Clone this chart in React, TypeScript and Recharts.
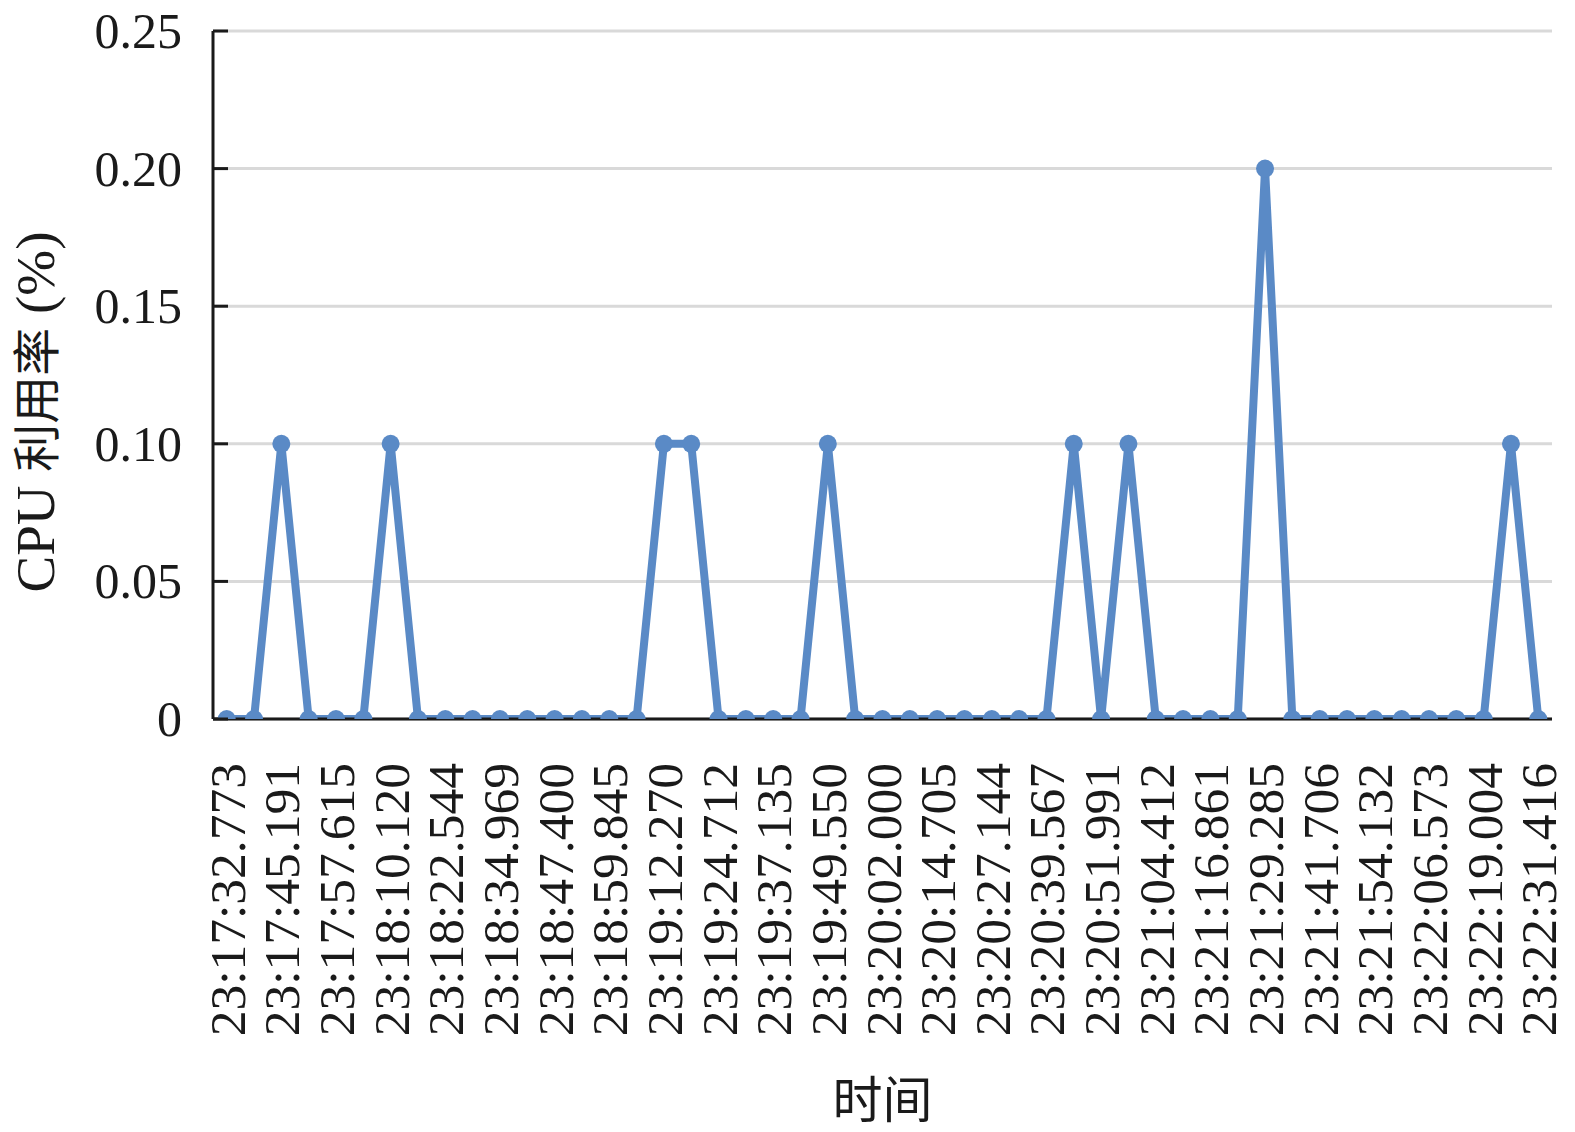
import React from 'react';
import { LineChart, Line, XAxis, YAxis, CartesianGrid, Label } from 'recharts';

const times = [
  '23:17:32.773', '23:17:38.982', '23:17:45.191', '23:17:51.403', '23:17:57.615',
  '23:18:03.868', '23:18:10.120', '23:18:16.332', '23:18:22.544', '23:18:28.757',
  '23:18:34.969', '23:18:41.185', '23:18:47.400', '23:18:53.622', '23:18:59.845',
  '23:19:06.058', '23:19:12.270', '23:19:18.491', '23:19:24.712', '23:19:30.924',
  '23:19:37.135', '23:19:43.343', '23:19:49.550', '23:19:55.775', '23:20:02.000',
  '23:20:08.353', '23:20:14.705', '23:20:20.925', '23:20:27.144', '23:20:33.356',
  '23:20:39.567', '23:20:45.779', '23:20:51.991', '23:20:58.202', '23:21:04.412',
  '23:21:10.637', '23:21:16.861', '23:21:23.073', '23:21:29.285', '23:21:35.496',
  '23:21:41.706', '23:21:47.919', '23:21:54.132', '23:22:00.353', '23:22:06.573',
  '23:22:12.789', '23:22:19.004', '23:22:25.210', '23:22:31.416',
];

const cpu = [
  0, 0, 0.1, 0, 0, 0, 0.1, 0, 0, 0,
  0, 0, 0, 0, 0, 0, 0.1, 0.1, 0, 0,
  0, 0, 0.1, 0, 0, 0, 0, 0, 0, 0,
  0, 0.1, 0, 0.1, 0, 0, 0, 0, 0.2, 0,
  0, 0, 0, 0, 0, 0, 0, 0.1, 0,
];

const yTicks = [0, 0.05, 0.1, 0.15, 0.2, 0.25];

const data = times.map((t, i) => ({ time: t, cpu: cpu[i] }));

const SERIF = 'Liberation Serif';
const CJK = 'Noto Sans CJK SC';
const BLUE = '#5a8ac6';
const INK = '#1a1a1a';

const YTick = (props: any) => {
  const { x, y, payload } = props;
  const v = payload.value;
  return (
    <g>
      <line x1={x} x2={x + 15} y1={y} y2={y} stroke={INK} strokeWidth={3} />
      <text x={x - 31} y={y} dy="0.34em" textAnchor="end" style={{ fontFamily: SERIF, fontSize: 50 }} fill={INK}>
        {v === 0 ? '0' : v.toFixed(2)}
      </text>
    </g>
  );
};

const XTick = (props: any) => {
  const { x, y, payload } = props;
  const ty = y + 44;
  return (
    <g transform={`translate(${x}, ${ty}) rotate(-90)`}>
      <text x={0} y={0} dy="0.35em" textAnchor="end" style={{ fontFamily: SERIF, fontSize: 51.5 }} fill={INK}>
        {payload.value}
      </text>
    </g>
  );
};

export default function App() {
  return (
    <div style={{ width: 1575, height: 1132, overflow: 'hidden', background: '#fff', position: 'fixed', left: 0, top: 0 }}>
      <LineChart width={1575} height={1132} data={data} margin={{ top: 31, right: 23, left: 0, bottom: 0 }} style={{ display: 'block' }}>
        <CartesianGrid vertical={false} stroke="#d9d9d9" strokeWidth={3} />
        <XAxis
          dataKey="time"
          interval={1}
          tickSize={0}
          tickMargin={0}
          tickLine={false}
          height={413}
          padding={{ left: 13.7, right: 13.7 }}
          axisLine={{ stroke: INK, strokeWidth: 3 }}
          tick={<XTick />}
        >
          <Label
            content={(p: any) => {
              const vb = p.viewBox;
              return (
                <text x={vb.x + vb.width / 2} y={1100} dy="0.35em" textAnchor="middle" style={{ fontFamily: CJK, fontSize: 50 }} fill={INK}>
                  时间
                </text>
              );
            }}
          />
        </XAxis>
        <YAxis
          width={213}
          domain={[0, 0.25]}
          ticks={yTicks}
          allowDataOverflow
          tickSize={0}
          tickMargin={0}
          tickLine={false}
          axisLine={{ stroke: INK, strokeWidth: 3 }}
          tick={<YTick />}
        >
          <Label
            content={(p: any) => {
              const vb = p.viewBox;
              const cx = 35;
              const cy = vb.y + vb.height / 2 + 37;
              return (
                <g transform={`translate(${cx}, ${cy}) rotate(-90)`}>
                  <text x={0} y={0} dy="0.35em" textAnchor="middle" style={{ fontSize: 55 }} fill={INK}>
                    <tspan style={{ fontFamily: SERIF }}>CPU </tspan>
                    <tspan style={{ fontFamily: CJK, fontSize: 48 }}>利用率</tspan>
                    <tspan style={{ fontFamily: SERIF }}> (%)</tspan>
                  </text>
                </g>
              );
            }}
          />
        </YAxis>
        <Line
          type="linear"
          dataKey="cpu"
          stroke={BLUE}
          strokeWidth={8}
          dot={{ r: 9, fill: BLUE, stroke: BLUE, strokeWidth: 0 }}
          activeDot={false}
          isAnimationActive={false}
        />
      </LineChart>
    </div>
  );
}
